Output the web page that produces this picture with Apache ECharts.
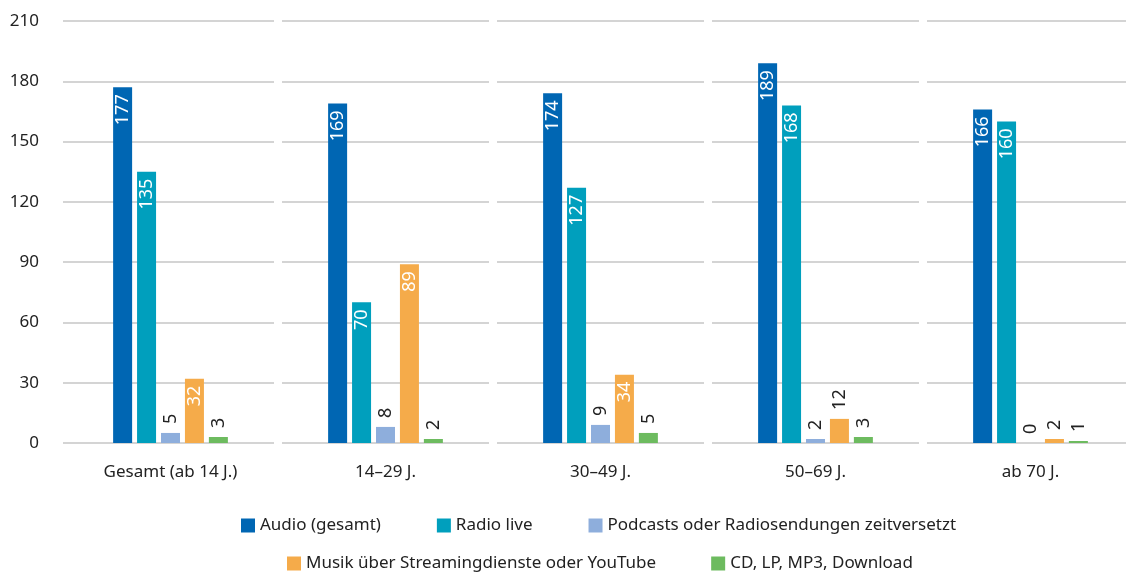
<!DOCTYPE html>
<html>
<head>
<meta charset="utf-8">
<script src="https://cdn.jsdelivr.net/npm/echarts@6/dist/echarts.min.js"></script>
<style>
  html, body { margin: 0; padding: 0; background: #fff; }
  #chart { width: 1126px; height: 574px; }
</style>
</head>
<body>
<div id="chart"></div>
<script>
// Kategorien (Altersgruppen)
const categories = ['Gesamt (ab 14 J.)', '14–29 J.', '30–49 J.', '50–69 J.', 'ab 70 J.'];

// Werte je Reihe
const audioGesamt = [177, 169, 174, 189, 166];
const radioLive = [135, 70, 127, 168, 160];
const podcasts = [5, 8, 9, 2, 0];
const musikStreaming = [32, 89, 34, 12, 2];
const cdDownload = [3, 2, 5, 3, 1];

const seriesNames = [
  'Audio (gesamt)',
  'Radio live',
  'Podcasts oder Radiosendungen zeitversetzt',
  'Musik über Streamingdienste oder YouTube',
  'CD, LP, MP3, Download'
];
const seriesColors = ['#0066b3', '#009fbd', '#8eaedc', '#f5ab4a', '#6dbb5f'];
const yTicks = { min: 0, max: 210, interval: 30 };

const FONT = '"Noto Sans", "Open Sans", sans-serif';

// Label innen (weiß) bei großen Balken, sonst oberhalb (dunkel)
function makeData(values) {
  return values.map(function (v) {
    const inside = v >= 30;
    return {
      value: v,
      label: inside ? {
        position: 'insideTop',
        distance: 7,
        align: 'right',
        color: '#ffffff'
      } : {
        position: 'top',
        distance: 9,
        align: 'left',
        color: '#222222'
      }
    };
  });
}

const allValues = [audioGesamt, radioLive, podcasts, musikStreaming, cdDownload];

const achart = echarts.init(document.getElementById('chart'));

const legendText = { fontFamily: FONT, fontSize: 17, color: '#222' };

const option = {
  backgroundColor: '#ffffff',
  animation: false,
  grid: { left: 63, width: 1075, top: 21, height: 422, outerBoundsMode: 'none', containLabel: false },
  legend: [
    {
      data: seriesNames.slice(0, 3),
      top: 517,
      left: 241,
      padding: 0,
      itemWidth: 14,
      itemHeight: 14,
      itemGap: 56,
      icon: 'rect',
      textStyle: legendText
    },
    {
      data: seriesNames.slice(3),
      top: 555,
      left: 287,
      padding: 0,
      itemWidth: 14,
      itemHeight: 14,
      itemGap: 55,
      icon: 'rect',
      textStyle: legendText
    }
  ],
  xAxis: {
    type: 'category',
    data: categories,
    axisLine: { show: false },
    axisTick: { show: false },
    axisLabel: { margin: 21, fontFamily: FONT, fontSize: 17, color: '#222' }
  },
  yAxis: {
    type: 'value',
    min: yTicks.min,
    max: yTicks.max,
    interval: yTicks.interval,
    axisLine: { show: false },
    axisTick: { show: false },
    axisLabel: { margin: 24, fontFamily: FONT, fontSize: 17, color: '#222' },
    splitLine: {
      // Gitterlinien mit kleinen Lücken an den Kategoriegrenzen
      lineStyle: { color: '#c6c6c6', width: 1.5, type: [211, 8, 207, 8, 207, 8, 207, 8, 207, 100] }
    }
  },
  series: seriesNames.map(function (name, i) {
    return {
      name: name,
      type: 'bar',
      barWidth: 19,
      barGap: '26%',
      itemStyle: { color: seriesColors[i] },
      label: {
        show: true,
        rotate: 90,
        verticalAlign: 'middle',
        fontFamily: FONT,
        fontSize: 18
      },
      data: makeData(allValues[i])
    };
  })
};

achart.setOption(option);
</script>
</body>
</html>
